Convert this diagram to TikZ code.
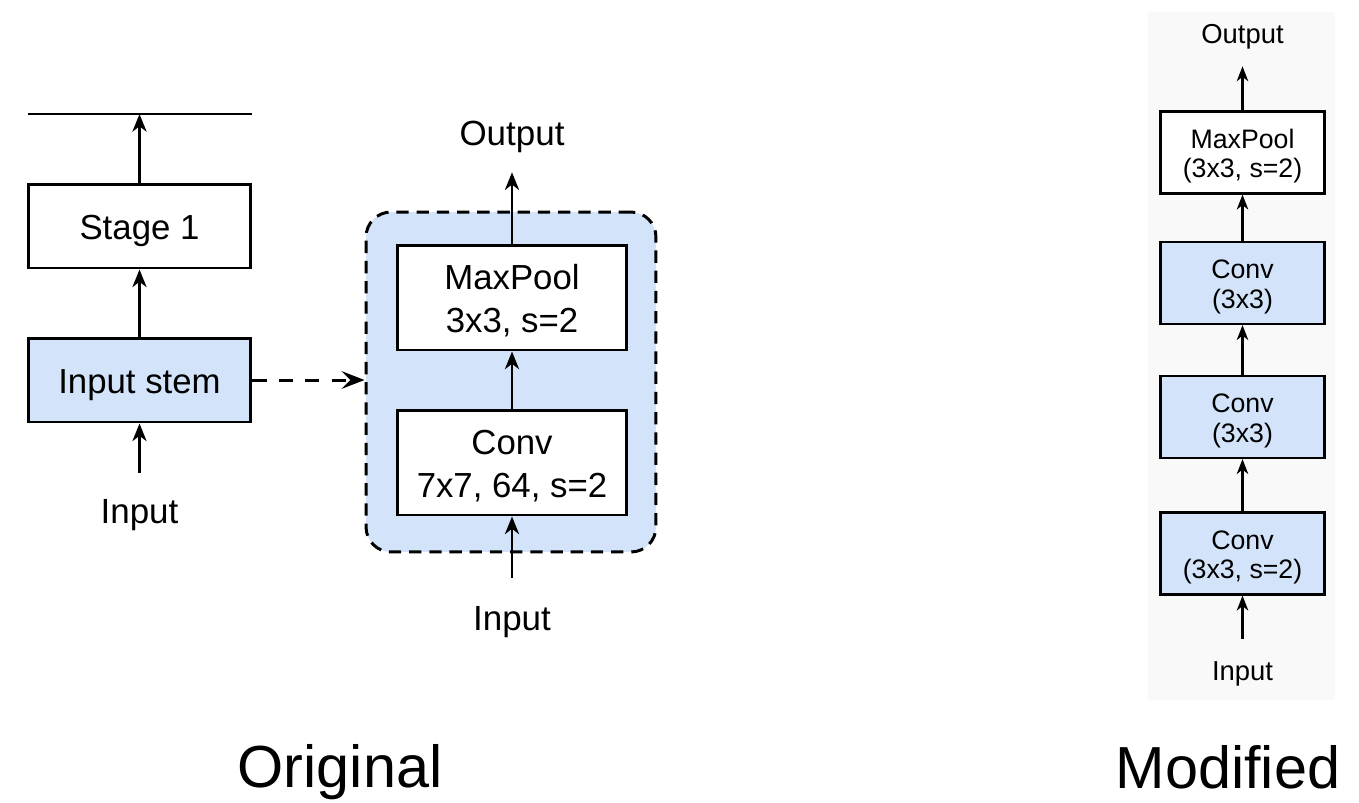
\documentclass[tikz,border=0pt]{standalone}
\usepackage{fontspec}
\setmainfont{Liberation Sans}
\usetikzlibrary{arrows.meta,positioning}
\definecolor{stemblue}{RGB}{211,228,250}
\definecolor{panelgray}{RGB}{249,249,249}
% struts that fix first baseline and last depth inside the boxes
\newcommand{\ltop}{\rule{0pt}{21.3pt}}
\newcommand{\lbot}{\rule[-5.7pt]{0pt}{5.7pt}}
\newcommand{\rtop}{\rule{0pt}{16.4pt}}
\newcommand{\rbot}{\rule[-4.5pt]{0pt}{4.5pt}}

\begin{document}
\begin{tikzpicture}[x=0.02cm,y=-0.02cm,
  blk/.style={draw,line width=1.7pt,fill=white,inner sep=0pt,align=center,
    minimum width=4.46cm,minimum height=1.68cm,font=\fontsize{19.8}{24.4}\selectfont},
  rblk/.style={draw,line width=1.2pt,fill=white,inner sep=0pt,align=center,
    minimum width=3.28cm,minimum height=1.64cm,font=\fontsize{15.2}{17}\selectfont},
  lbl/.style={anchor=base,inner sep=0pt,font=\fontsize{19.9}{24}\selectfont},
  rlbl/.style={anchor=base,inner sep=0pt,font=\fontsize{15.6}{18}\selectfont},
  captxt/.style={anchor=base,inner sep=0pt,font=\fontsize{33.8}{40}\selectfont},
  arr/.style={-{Stealth[length=10pt,width=8pt,inset=3pt]},line width=1.7pt},
  rarr/.style={-{Stealth[length=8.5pt,width=6.5pt,inset=2.5pt]},line width=1.2pt}]
  \useasboundingbox (0,0) rectangle (1359,802);

  % original stem
  \coordinate (lineL) at (28,114);
  \coordinate (lineR) at (252,114);
  \draw[line width=1.2pt] (lineL) -- (lineR);
  \node[blk] (stage1) at (139.5,226) {\ltop Stage 1\lbot};
  \node[blk,fill=stemblue] (stem) at (139.5,380) {\ltop Input stem\lbot};
  \node[lbl] (inA) at (139.5,523) {Input};
  \draw[arr,shorten <=14.7pt] (inA) -- (stem);
  \draw[arr] (stem) -- (stage1);
  \draw[arr] (stage1) -- (stage1.north |- lineL);

  \node[draw,fill=stemblue,line width=1.7pt,dash pattern=on 7pt off 4.5pt,rounded corners=0.5cm,
        minimum width=5.8cm,minimum height=6.8cm] (group) at (511,382) {};
  \draw[dash pattern=on 8pt off 7pt,line width=1.7pt,-{Stealth[length=13pt,width=10pt,inset=5pt]}]
    (stem.east) -- (group.west |- stem.east);
  \node[blk,minimum width=4.6cm,minimum height=2.1cm] (pool) at (512,297.5) {\ltop MaxPool\\3x3, s=2\lbot};
  \node[blk,minimum width=4.6cm,minimum height=2.1cm] (conv) at (512,462.5) {\ltop Conv\\7x7, 64, s=2\lbot};
  \node[lbl] (outB) at (512,145) {Output};
  \node[lbl] (inB) at (512,630) {Input};
  \draw[arr,shorten <=15.8pt] (inB) -- (conv);
  \draw[arr] (conv) -- (pool);
  \draw[arr,shorten >=11.2pt] (pool) -- (outB);

  % modified stem
  \fill[panelgray] (1148,12) rectangle (1335,700);
  \node[rblk] (rpool) at (1242.5,152.5) {\rtop MaxPool\\(3x3, s=2)\rbot};
  \node[rblk,fill=stemblue] (rconv3) at (1242.5,283) {\rtop Conv\\(3x3)\rbot};
  \node[rblk,fill=stemblue] (rconv2) at (1242.5,417) {\rtop Conv\\(3x3)\rbot};
  \node[rblk,fill=stemblue] (rconv1) at (1242.5,553.5) {\rtop Conv\\(3x3, s=2)\rbot};
  \node[rlbl] (outC) at (1242.5,43) {Output};
  \node[rlbl] (inC) at (1242.5,680) {Input};
  \draw[rarr,shorten <=12.6pt] (inC) -- (rconv1);
  \draw[rarr] (rconv1) -- (rconv2);
  \draw[rarr] (rconv2) -- (rconv3);
  \draw[rarr] (rconv3) -- (rpool);
  \draw[rarr,shorten >=9.8pt] (rpool) -- (outC);

  \node[captxt] (capA) at (340,787) {Original};
  \node[captxt] (capB) at (1228,788) {Modified};
\end{tikzpicture}
\end{document}
